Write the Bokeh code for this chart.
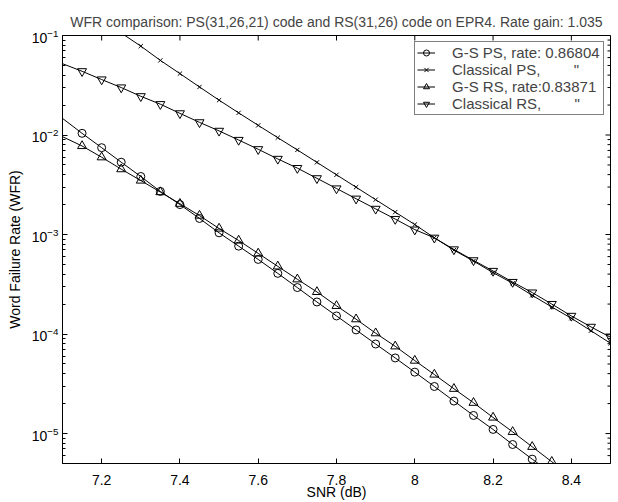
import numpy as np
from bokeh.plotting import figure
from bokeh.models import (ColumnDataSource, FixedTicker, Legend, LegendItem, Range1d,
                          CDSView, BooleanFilter)
from bokeh.embed import file_html
from bokeh.resources import INLINE

# ---------------- data ----------------
SNR = [7.10, 7.15, 7.20, 7.25, 7.30, 7.35, 7.40, 7.45, 7.50, 7.55, 7.60, 7.65, 7.70,
       7.75, 7.80, 7.85, 7.90, 7.95, 8.00, 8.05, 8.10, 8.15, 8.20, 8.25, 8.30, 8.35,
       8.40, 8.45, 8.50]

GS_PS = [0.01469, 0.01040, 0.00746, 0.00533, 0.00383, 0.00271, 0.00200, 0.00145,
         0.00104, 0.000764, 0.000562, 0.000407, 0.000293, 0.000210, 0.000152,
         0.000110, 7.94e-5, 5.75e-5, 4.14e-5, 2.97e-5, 2.12e-5, 1.52e-5, 1.10e-5,
         7.76e-6, 5.53e-6, 3.98e-6, None, None, None]

CLASSICAL_PS = [None, None, None, 0.1059, 0.0782, 0.0562, 0.0414, 0.0304, 0.0224,
                0.0167, 0.0125, 0.00940, 0.00708, 0.00531, 0.00398, 0.00299, 0.00224,
                0.00168, 0.00126, 0.000927, 0.000697, 0.000541, 0.000414, 0.000324,
                0.000245, 0.000187, 0.000144, 0.000108, 8.07e-5]

GS_RS = [0.00962, 0.00776, 0.00598, 0.00454, 0.00349, 0.00267, 0.00204, 0.00155,
         0.00115, 0.000871, 0.000646, 0.000479, 0.000355, 0.000265, 0.000192,
         0.000141, 0.000102, 7.53e-5, 5.41e-5, 3.92e-5, 2.82e-5, 2.04e-5, 1.45e-5,
         1.04e-5, 7.36e-6, 5.21e-6, 3.72e-6, None, None]

CLASSICAL_RS = [0.0521, 0.0437, 0.0361, 0.0300, 0.0245, 0.0204, 0.0165, 0.0134, 0.0110,
                0.00891, 0.00719, 0.00575, 0.00465, 0.00367, 0.00290, 0.00229, 0.00181,
                0.00143, 0.00112, 0.000927, 0.000708, 0.000550, 0.000430, 0.000333,
                0.000261, 0.000200, 0.000152, 0.000118, 9.27e-5]

LABELS = ["G-S PS, rate: 0.86804",
          "Classical PS," + "\u00a0" * 8 + "\"",
          "G-S RS, rate:0.83871",
          "Classical RS," + "\u00a0" * 8 + "\""]
MARKERS = ["circle", "x", "triangle", "inverted_triangle"]

X_TICKS = [7.2, 7.4, 7.6, 7.8, 8.0, 8.2, 8.4]
X_TICK_LABELS = ["7.2", "7.4", "7.6", "7.8", "8", "8.2", "8.4"]
Y_TICKS = [1e-5, 1e-4, 1e-3, 1e-2, 1e-1]

TITLE = "WFR comparison: PS(31,26,21) code and RS(31,26) code on EPR4. Rate gain: 1.035"
X_LABEL = "SNR (dB)"
Y_LABEL = "Word Failure Rate (WFR)"

# ---------------- figure ----------------
FONT = "Liberation Sans"
X0, X1 = 7.1, 8.5
Y0, Y1 = 5e-6, 1e-1

p = figure(width=618, height=502, x_range=Range1d(X0, X1), y_range=Range1d(Y0, Y1),
           y_axis_type="log", output_backend="svg", toolbar_location=None,
           min_border_left=62, min_border_right=8, min_border_top=35, min_border_bottom=0,
           title=TITLE)
p.title.text_font = FONT
p.title.text_font_size = "14px"
p.title.text_font_style = "normal"
p.title.align = "center"
p.title.standoff = 11
p.xgrid.visible = False
p.ygrid.visible = False
p.outline_line_color = "black"
p.outline_line_width = 1
p.background_fill_color = "white"
p.border_fill_color = "white"

minor_y = [m * 10.0 ** e for e in range(-6, -1) for m in range(2, 10)
           if Y0 * 0.999 <= m * 10.0 ** e <= Y1]
yticker = FixedTicker(ticks=Y_TICKS, minor_ticks=minor_y)
xticker = FixedTicker(ticks=X_TICKS, minor_ticks=[])
x_over = {t: l for t, l in zip(X_TICKS, X_TICK_LABELS)}


def style_axis(ax):
    ax.axis_line_color = "black"
    ax.major_tick_in = 5
    ax.major_tick_out = 0
    ax.minor_tick_in = 3
    ax.minor_tick_out = 0
    ax.major_tick_line_color = "black"
    ax.minor_tick_line_color = "black"
    ax.major_label_text_font = FONT
    ax.major_label_text_font_size = "14px"
    ax.major_label_text_color = "black"
    ax.axis_label_text_font = FONT
    ax.axis_label_text_font_size = "14px"
    ax.axis_label_text_font_style = "normal"
    ax.axis_label_text_color = "black"


xa = p.xaxis[0]
xa.ticker = xticker
xa.major_label_overrides = x_over
xa.axis_label = X_LABEL
style_axis(xa)
xa.major_label_standoff = 11
xa.axis_label_standoff = -4

ya = p.yaxis[0]
ya.ticker = yticker
ya.axis_label = Y_LABEL
style_axis(ya)
ya.major_label_standoff = 4
ya.axis_label_standoff = 6

# mirrored inward ticks on the top and right edges of the frame (screen-length rays)
p.ray(x=X_TICKS, y=[Y1] * len(X_TICKS), length=5, angle=-np.pi / 2,
      length_units="screen", line_color="black", line_width=1)
p.ray(x=[X1] * len(Y_TICKS), y=Y_TICKS, length=5, angle=np.pi,
      length_units="screen", line_color="black", line_width=1)
p.ray(x=[X1] * len(minor_y), y=minor_y, length=3, angle=np.pi,
      length_units="screen", line_color="black", line_width=1)

# ---------------- series ----------------
SERIES = [GS_PS, CLASSICAL_PS, GS_RS, CLASSICAL_RS]
SIZES = {"circle": 8, "x": 6, "triangle": 9, "inverted_triangle": 9}
items = []
for vals, label, marker in zip(SERIES, LABELS, MARKERS):
    xs = np.array(SNR, dtype=float)
    ys = np.array([np.nan if v is None else v for v in vals], dtype=float)
    src = ColumnDataSource(dict(x=xs, y=ys))
    lr = p.line("x", "y", source=src, line_color="black", line_width=1)
    mask = [bool(xv > X0 + 1e-9 and np.isfinite(yv) and Y0 <= yv <= Y1)
            for xv, yv in zip(xs, ys)]
    sr = p.scatter("x", "y", source=src, view=CDSView(filter=BooleanFilter(mask)),
                   marker=marker, size=SIZES[marker], line_color="black",
                   fill_color=None, line_width=1)
    items.append(LegendItem(label=label, renderers=[lr, sr]))

legend = Legend(items=items, location="top_right", margin=6, padding=2, spacing=-3,
                label_text_font=FONT, label_text_font_size="15px",
                label_width=149,
                label_height=15, glyph_height=15, glyph_width=18, label_standoff=17,
                border_line_color="black", border_line_width=1.5,
                background_fill_color="white", background_fill_alpha=1)
p.add_layout(legend)

open("out.html", "w").write(file_html(p, INLINE))
